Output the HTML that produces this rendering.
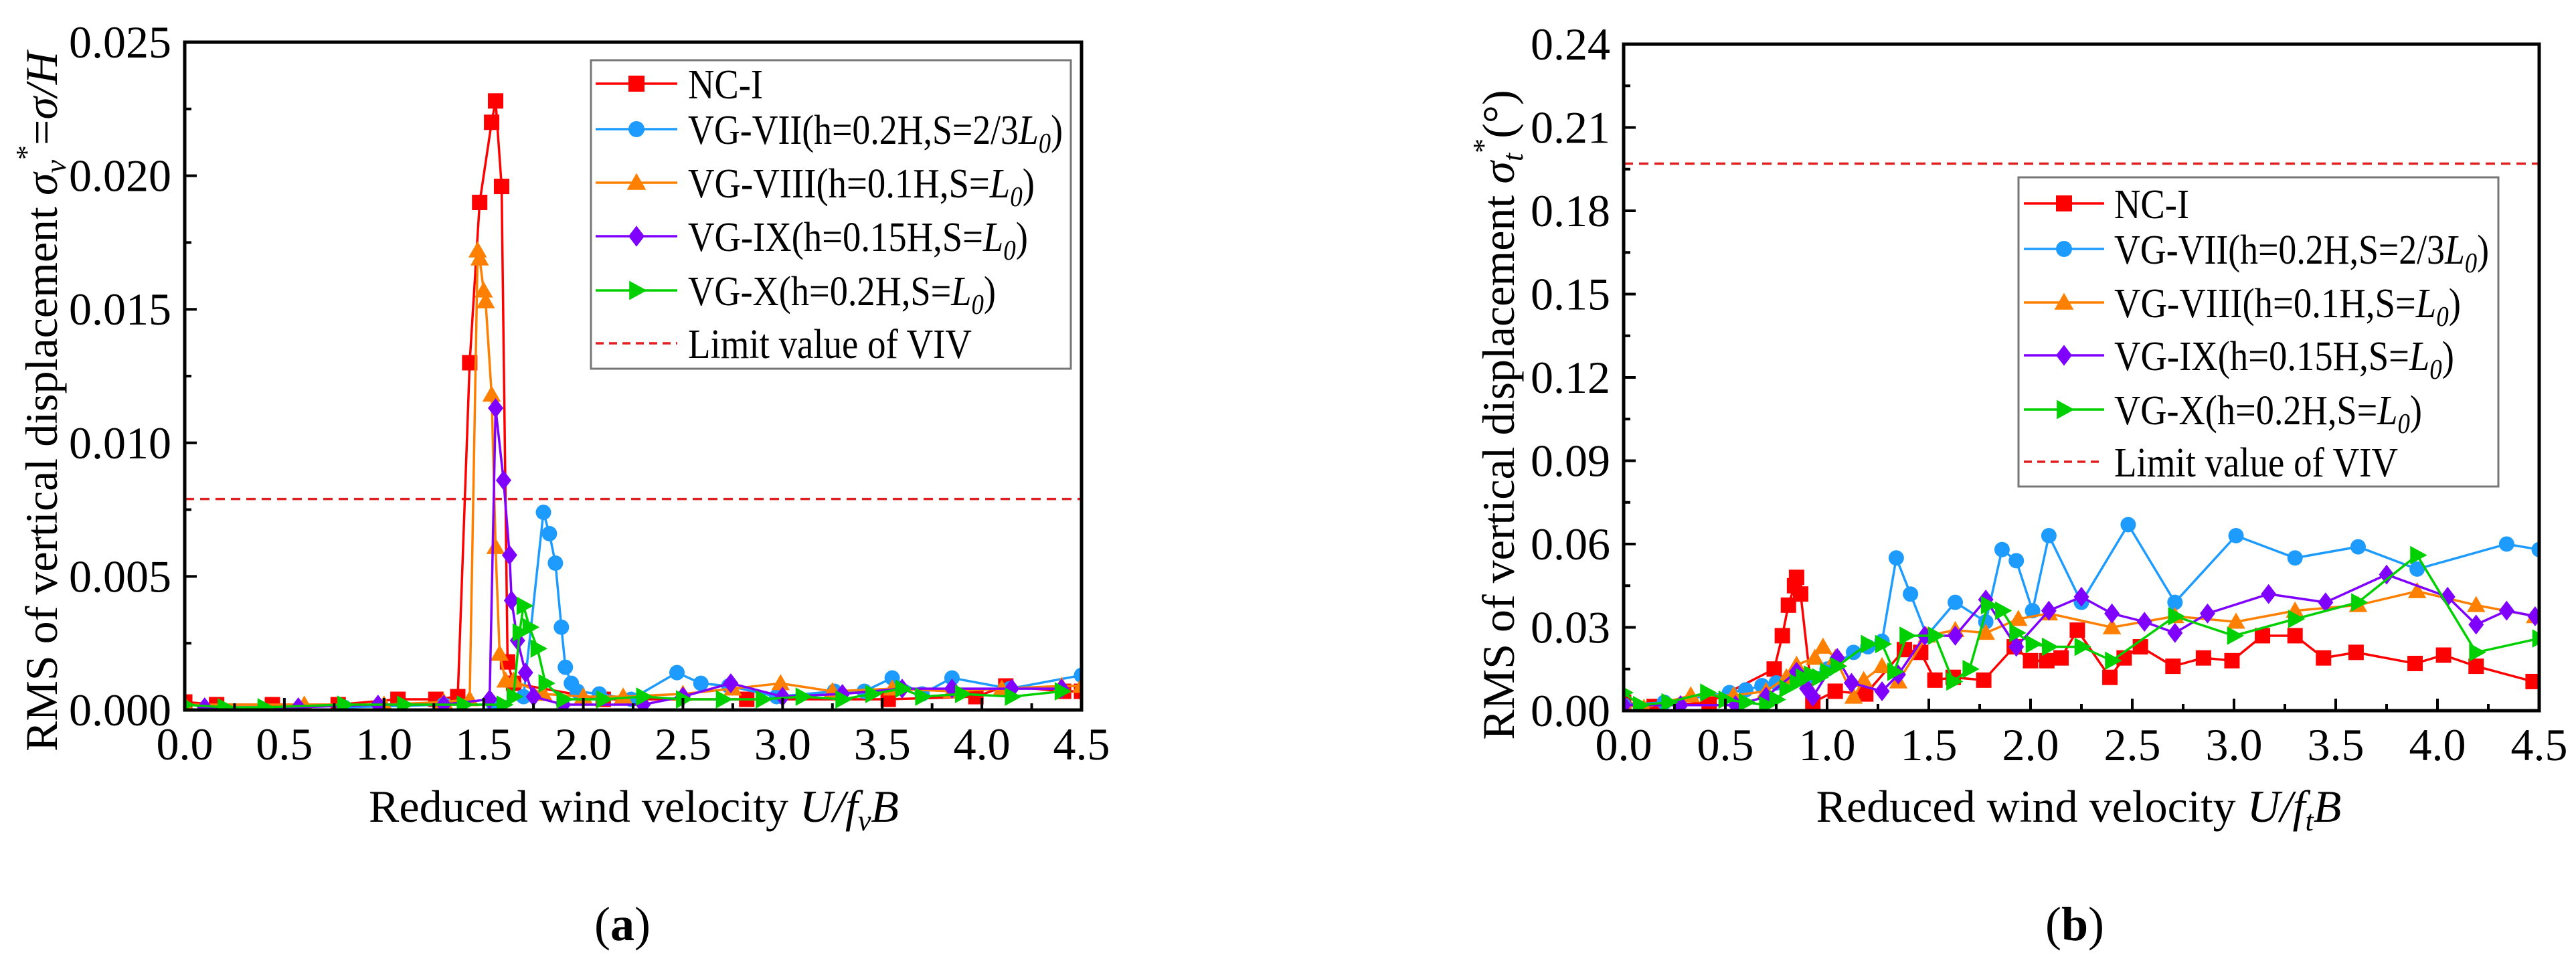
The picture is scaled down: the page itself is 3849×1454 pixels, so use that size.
<!DOCTYPE html>
<html><head><meta charset="utf-8">
<style>
html,body{margin:0;padding:0;background:#fff;}
svg, svg text, svg tspan{font-family:"Liberation Serif","Times New Roman",serif;}
</style></head>
<body>
<svg id="fig" width="3849" height="1449" viewBox="0 0 3849 1449" font-family="Liberation Serif, serif" xmlns="http://www.w3.org/2000/svg"></svg>
<script>
// ---------- Data: panel (a) ----------
const aNCx = [0,0.16,0.44,0.77,1.07,1.26,1.37,1.43,1.48,1.54,1.56,1.59,1.62,1.65,2.1,2.82,3.53,3.97,4.12,4.41,4.5];
const aNCy = [0.0003,0.0002,0.0002,0.0002,0.0004,0.0004,0.0005,0.0130,0.0190,0.0220,0.0228,0.0196,0.0018,0.0010,0.0004,0.0004,0.0004,0.0005,0.0009,0.0007,0.0007];
const aVIIx = [0.8,1.3,1.55,1.7,1.80,1.83,1.86,1.89,1.91,1.94,1.97,2.08,2.24,2.47,2.59,2.73,2.97,3.26,3.41,3.55,3.70,3.85,4.14,4.5];
const aVIIy = [0.0001,0.0002,0.0002,0.0005,0.0074,0.0066,0.0055,0.0031,0.0016,0.0010,0.0007,0.0006,0.0004,0.0014,0.0010,0.0009,0.0005,0.0007,0.0007,0.0012,0.0006,0.0012,0.0008,0.0013];
const aVIIIx = [0,0.6,1.0,1.3,1.43,1.47,1.48,1.50,1.51,1.54,1.56,1.58,1.61,1.65,1.8,2.0,2.2,2.5,2.75,2.99,3.25,3.55,3.85,4.1,4.4,4.5];
const aVIIIy = [0.0002,0.0002,0.0002,0.0003,0.0004,0.0172,0.0169,0.0157,0.0153,0.0118,0.0061,0.0021,0.0011,0.0011,0.0006,0.0005,0.0005,0.0006,0.0008,0.0010,0.0007,0.0008,0.0007,0.0008,0.0009,0.0009];
const aIXx = [0.1,0.57,0.97,1.3,1.53,1.56,1.60,1.63,1.64,1.67,1.71,1.75,1.9,2.3,2.5,2.74,3.0,3.3,3.6,3.85,4.15,4.4];
const aIXy = [0.0001,0.0001,0.0002,0.0002,0.0004,0.0113,0.0086,0.0058,0.0041,0.0026,0.0014,0.0005,0.0002,0.0002,0.0005,0.0010,0.0005,0.0006,0.0008,0.0008,0.0008,0.0008];
const aXx = [0,0.2,0.4,0.8,1.1,1.4,1.6,1.65,1.68,1.70,1.73,1.77,1.81,1.9,2.1,2.3,2.5,2.7,2.9,3.1,3.3,3.45,3.6,3.7,3.9,4.15,4.4];
const aXy = [0.0002,0.0001,0.0001,0.0002,0.0002,0.0002,0.0002,0.0005,0.0029,0.0039,0.0031,0.0023,0.0010,0.0004,0.0004,0.0005,0.0004,0.0004,0.0004,0.0005,0.0004,0.0006,0.0008,0.0005,0.0006,0.0005,0.0007];
const aLimit = 0.0079;
const aYTicks = ["0.000","0.005","0.010","0.015","0.020","0.025"];
const xTicks = ["0.0","0.5","1.0","1.5","2.0","2.5","3.0","3.5","4.0","4.5"];

// ---------- Data: panel (b) ----------
const bNCx = [0,0.15,0.42,0.74,0.78,0.81,0.84,0.85,0.87,0.93,1.04,1.19,1.38,1.46,1.53,1.62,1.77,1.92,2.0,2.08,2.15,2.23,2.39,2.46,2.54,2.70,2.85,2.99,3.14,3.30,3.44,3.60,3.89,4.03,4.19,4.47];
const bNCy = [0.003,0.0015,0.003,0.015,0.027,0.038,0.045,0.048,0.042,0.003,0.007,0.006,0.022,0.021,0.011,0.012,0.011,0.023,0.018,0.018,0.019,0.029,0.012,0.019,0.023,0.016,0.019,0.018,0.027,0.027,0.019,0.021,0.017,0.020,0.016,0.0105];
const bVIIx = [0,0.2,0.52,0.6,0.68,0.75,0.9,1.0,1.13,1.2,1.27,1.34,1.41,1.49,1.63,1.78,1.86,1.93,2.01,2.09,2.25,2.48,2.71,3.01,3.30,3.61,3.90,4.34,4.5];
const bVIIy = [0.002,0.003,0.0065,0.0075,0.009,0.010,0.012,0.015,0.021,0.023,0.025,0.055,0.042,0.027,0.039,0.032,0.058,0.054,0.036,0.063,0.039,0.067,0.039,0.063,0.055,0.059,0.051,0.060,0.058];
const bVIIIx = [0,0.1,0.33,0.54,0.7,0.8,0.85,0.94,0.98,1.04,1.13,1.18,1.27,1.35,1.49,1.63,1.78,1.94,2.09,2.40,2.71,3.01,3.30,3.61,3.90,4.19,4.48];
const bVIIIy = [0.002,0.001,0.0055,0.0055,0.007,0.012,0.0165,0.019,0.023,0.019,0.005,0.011,0.016,0.0105,0.027,0.029,0.028,0.033,0.035,0.030,0.034,0.032,0.036,0.038,0.043,0.038,0.034];
const bIXx = [0,0.28,0.55,0.7,0.85,0.9,0.93,1.05,1.12,1.27,1.35,1.48,1.63,1.78,1.93,2.09,2.25,2.40,2.56,2.71,2.87,3.17,3.45,3.75,4.05,4.19,4.34,4.48];
const bIXy = [0.002,0.002,0.002,0.005,0.014,0.008,0.005,0.019,0.010,0.007,0.013,0.027,0.027,0.040,0.023,0.036,0.041,0.035,0.032,0.028,0.035,0.042,0.039,0.049,0.041,0.031,0.036,0.034];
const bXx = [0,0.08,0.22,0.41,0.5,0.6,0.7,0.75,0.8,0.85,0.88,0.92,0.96,1.0,1.05,1.20,1.27,1.33,1.39,1.53,1.62,1.70,1.79,1.86,1.93,2.01,2.09,2.25,2.40,2.71,3.00,3.30,3.61,3.90,4.19,4.5];
const bXy = [0.0065,0.002,0.003,0.0065,0.004,0.003,0.002,0.004,0.008,0.010,0.012,0.013,0.012,0.014,0.016,0.024,0.024,0.014,0.027,0.027,0.0105,0.015,0.038,0.036,0.028,0.024,0.023,0.023,0.018,0.034,0.027,0.033,0.039,0.056,0.021,0.026];
const bLimit = 0.197;
const bYTicks = ["0.00","0.03","0.06","0.09","0.12","0.15","0.18","0.21","0.24"];

const NS = "http://www.w3.org/2000/svg";
const FONT = "Liberation Serif, Times New Roman, serif";
const svg = document.getElementById('fig');
function mk(tag, attrs, parent){
  const e = document.createElementNS(NS, tag);
  for (const k in attrs) e.setAttribute(k, attrs[k]);
  if (tag === 'text') e.setAttribute('font-family', FONT);
  (parent||svg).appendChild(e);
  return e;
}
const COLORS = {nc:"#ff0000", vii:"#1e9bff", viii:"#ff8000", ix:"#8000ff", x:"#00d000"};

function marker(g, type, cx, cy, color, s){
  let m;
  if (type === 'square') m = mk('rect', {x:cx-s/2, y:cy-s/2, width:s, height:s, fill:color}, g);
  else if (type === 'circle') m = mk('circle', {cx:cx, cy:cy, r:s/2, fill:color}, g);
  else if (type === 'tri') m = mk('polygon', {points:`${cx},${cy-s*0.6} ${cx-s*0.6},${cy+s*0.45} ${cx+s*0.6},${cy+s*0.45}`, fill:color}, g);
  else if (type === 'diamond') m = mk('polygon', {points:`${cx},${cy-s*0.65} ${cx+s*0.5},${cy} ${cx},${cy+s*0.65} ${cx-s*0.5},${cy}`, fill:color}, g);
  else m = mk('polygon', {points:`${cx-s*0.45},${cy-s*0.6} ${cx+s*0.65},${cy} ${cx-s*0.45},${cy+s*0.6}`, fill:color}, g);
  return m;
}

function panel(cfg){
  const {L,R,T,B,ymax,yTicks,series,limit,panelName,legend} = cfg;
  const xs = v => L + (v/4.5)*(R-L);
  const ys = v => B - (v/ymax)*(B-T);
  const g = mk('g', {});
  
  
  const clipId = panelName + '-clip';
  const cp = mk('clipPath', {id:clipId}, g);
  mk('rect', {x:L, y:T-15, width:R-L, height:B-T+15}, cp);
  const ll = mk('line', {x1:L, x2:R, y1:ys(limit), y2:ys(limit), stroke:"#e02020", 'stroke-width':3.5, 'stroke-dasharray':'14,9'}, g);
  
  
  const sg = mk('g', {'clip-path':`url(#${clipId})`}, g);
  series.forEach(s => {
    const grp = mk('g', {}, sg);
    
    
    const pts = s.x.map((v,i) => xs(v).toFixed(1) + ',' + ys(s.y[i]).toFixed(1)).join(' ');
    mk('polyline', {points:pts, fill:'none', stroke:s.color, 'stroke-width':3.5}, grp);
    s.x.forEach((v,i) => {
      const m = marker(grp, s.marker, xs(v), ys(s.y[i]), s.color, 23);
      
      
    });
  });
  const fr = mk('rect', {x:L, y:T, width:R-L, height:B-T, fill:'none', stroke:'#000', 'stroke-width':5}, g);
  
  
  for (let i = 0; i <= 18; i++) {
    const v = i*0.25, x = xs(v), len = i%2===0 ? 18 : 10;
    mk('line', {x1:x, x2:x, y1:B, y2:B-len, stroke:'#000', 'stroke-width':4}, g);
  }
  xTicks.forEach((t,i) => {
    const tx = mk('text', {x:xs(i*0.5), y:B+74, 'font-size':68, 'text-anchor':'middle', fill:'#000'}, g);
    tx.textContent = t;
    
    
  });
  const n = yTicks.length - 1;
  for (let i = 0; i <= n*2; i++) {
    const y = B - i*(B-T)/(n*2), len = i%2===0 ? 18 : 10;
    mk('line', {x1:L, x2:L+len, y1:y, y2:y, stroke:'#000', 'stroke-width':4}, g);
  }
  yTicks.forEach((t,i) => {
    const ty = mk('text', {x:L-20, y:B - i*(B-T)/n + 23, 'font-size':68, 'text-anchor':'end', fill:'#000'}, g);
    ty.textContent = t;
    
    
  });
  const lg = mk('g', {}, g);
  
  
  mk('rect', {x:legend.x, y:legend.y, width:legend.w, height:legend.h, fill:'#fff', stroke:'#777', 'stroke-width':3}, lg);
  const labels = [
    ['NC-I', ''], ['VG-VII(h=0.2H,S=2/3', ')'], ['VG-VIII(h=0.1H,S=', ')'],
    ['VG-IX(h=0.15H,S=', ')'], ['VG-X(h=0.2H,S=', ')'], ['Limit value of VIV','']
  ];
  labels.forEach((lb, i) => {
    const y = legend.rows[i];
    const ent = mk('g', {}, lg);
    
    
    if (i < 5) {
      const s = series[i];
      mk('line', {x1:legend.lx1, x2:legend.lx2, y1:y, y2:y, stroke:s.color, 'stroke-width':3.5}, ent);
      marker(ent, s.marker, (legend.lx1+legend.lx2)/2, y, s.color, 24);
    } else {
      mk('line', {x1:legend.lx1, x2:legend.lx2, y1:y, y2:y, stroke:'#e02020', 'stroke-width':3.5, 'stroke-dasharray':'12,8'}, ent);
    }
    const t = mk('text', {x:legend.tx, y:y+22, 'font-size':62, fill:'#000', textLength: legend.tl[i], lengthAdjust:'spacingAndGlyphs'}, ent);
    t.appendChild(document.createTextNode(lb[0]));
    if (i >= 1 && i <= 4) {
      const it = mk('tspan', {'font-style':'italic'}, t); it.textContent = 'L';
      const sub = mk('tspan', {'font-style':'italic', 'font-size':42, dy:13}, t); sub.textContent = '0';
      const cl = mk('tspan', {dy:-13}, t); cl.textContent = ')';
    }
  });
  return {xs, ys};
}

panel({
  L:276, R:1616, T:63, B:1061, ymax:0.025, yTicks:aYTicks, limit:aLimit, panelName:'panel-a',
  series:[
    {key:'nc-i', x:aNCx, y:aNCy, color:COLORS.nc, marker:'square'},
    {key:'vg-vii', x:aVIIx, y:aVIIy, color:COLORS.vii, marker:'circle'},
    {key:'vg-viii', x:aVIIIx, y:aVIIIy, color:COLORS.viii, marker:'tri'},
    {key:'vg-ix', x:aIXx, y:aIXy, color:COLORS.ix, marker:'diamond'},
    {key:'vg-x', x:aXx, y:aXy, color:COLORS.x, marker:'right'}
  ],
  legend:{x:883, y:90, w:717, h:461, rows:[125,193,273,353,434,513], lx1:890, lx2:1012, tx:1028,
          tl:[112,560,518,508,460,424]}
});
panel({
  L:2426, R:3794, T:66, B:1062, ymax:0.24, yTicks:bYTicks, limit:bLimit, panelName:'panel-b',
  series:[
    {key:'nc-i', x:bNCx, y:bNCy, color:COLORS.nc, marker:'square'},
    {key:'vg-vii', x:bVIIx, y:bVIIy, color:COLORS.vii, marker:'circle'},
    {key:'vg-viii', x:bVIIIx, y:bVIIIy, color:COLORS.viii, marker:'tri'},
    {key:'vg-ix', x:bIXx, y:bIXy, color:COLORS.ix, marker:'diamond'},
    {key:'vg-x', x:bXx, y:bXy, color:COLORS.x, marker:'right'}
  ],
  legend:{x:3016, y:265, w:717, h:462, rows:[304,372,452,531,612,690], lx1:3024, lx2:3144, tx:3159,
          tl:[112,560,518,508,460,424]}
});

function txt(name, attrs, html){
  const t = mk('text', attrs);
  t.innerHTML = html;
  
  
  return t;
}
txt('x-axis-title-a', {x:947, y:1228, 'font-size':68, 'text-anchor':'middle'},
  'Reduced wind velocity <tspan font-style="italic">U/f</tspan><tspan font-style="italic" font-size="44" dy="13">v</tspan><tspan font-style="italic" dy="-13">B</tspan>');
txt('x-axis-title-b', {x:3106, y:1228, 'font-size':68, 'text-anchor':'middle'},
  'Reduced wind velocity <tspan font-style="italic">U/f</tspan><tspan font-style="italic" font-size="44" dy="13">t</tspan><tspan font-style="italic" dy="-13">B</tspan>');
txt('y-axis-title-a', {x:0, y:0, 'font-size':68, 'text-anchor':'middle', transform:'translate(85,600) rotate(-90)'},
  'RMS of vertical displacement <tspan font-style="italic">σ</tspan><tspan font-style="italic" font-size="44" dy="13">v</tspan><tspan font-size="44" dy="-44">*</tspan><tspan dy="31">=</tspan><tspan font-style="italic">σ/H</tspan>');
txt('y-axis-title-b', {x:0, y:0, 'font-size':68, 'text-anchor':'middle', transform:'translate(2262,620) rotate(-90)'},
  'RMS of vertical displacement <tspan font-style="italic">σ</tspan><tspan font-style="italic" font-size="44" dy="13">t</tspan><tspan font-size="44" dy="-44">*</tspan><tspan dy="31">(°)</tspan>');
txt('caption-a', {x:930, y:1405, 'font-size':72, 'text-anchor':'middle'}, '(<tspan font-weight="bold">a</tspan>)');
txt('caption-b', {x:3100, y:1405, 'font-size':72, 'text-anchor':'middle'}, '(<tspan font-weight="bold">b</tspan>)');
</script>
</body></html>
